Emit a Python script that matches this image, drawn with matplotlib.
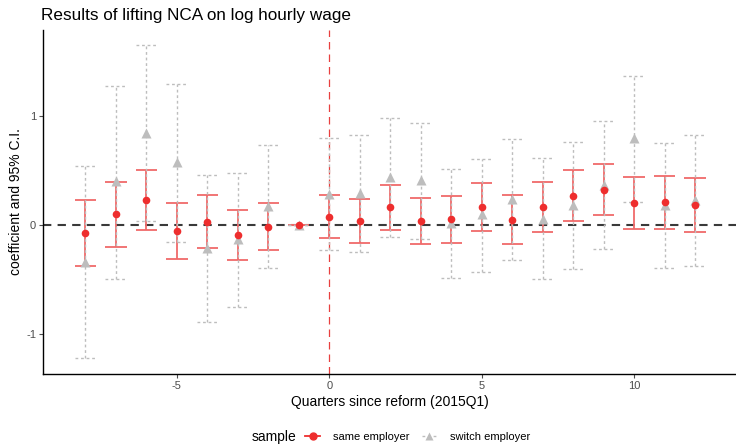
import numpy as np
import matplotlib
matplotlib.use("Agg")
import matplotlib.pyplot as plt
from matplotlib.lines import Line2D

plt.rcParams['font.family'] = ['Liberation Sans', 'DejaVu Sans']
plt.rcParams['axes.unicode_minus'] = False

# Event-time quarters relative to the 2015Q1 reform
quarters = [-8, -7, -6, -5, -4, -3, -2, -1, 0, 1, 2, 3, 4, 5, 6, 7, 8, 9, 10, 11, 12]

# Same employer: coefficient and 95% confidence bounds
same_coef = [-0.073, 0.098, 0.226, -0.055, 0.030, -0.091, -0.018, 0.0, 0.076, 0.037, 0.162,
             0.040, 0.055, 0.168, 0.049, 0.165, 0.268, 0.320, 0.201, 0.208, 0.183]
same_lo = [-0.372, -0.204, -0.049, -0.314, -0.213, -0.323, -0.229, 0.0, -0.119, -0.168, -0.046,
           -0.171, -0.165, -0.052, -0.177, -0.067, 0.037, 0.091, -0.040, -0.040, -0.067]
same_hi = [0.229, 0.393, 0.500, 0.204, 0.274, 0.140, 0.198, 0.0, 0.272, 0.238, 0.366,
           0.247, 0.262, 0.384, 0.274, 0.397, 0.500, 0.558, 0.439, 0.448, 0.433]

# Switch employer: coefficient and 95% confidence bounds
switch_coef = [-0.336, 0.400, 0.845, 0.574, -0.207, -0.131, 0.177, 0.0, 0.286, 0.293, 0.436,
               0.409, 0.015, 0.098, 0.241, 0.058, 0.186, 0.369, 0.796, 0.186, 0.229]
switch_lo = [-1.220, -0.494, 0.037, -0.159, -0.890, -0.750, -0.397, 0.0, -0.226, -0.244, -0.110,
             -0.131, -0.488, -0.430, -0.320, -0.490, -0.403, -0.217, 0.208, -0.397, -0.378]
switch_hi = [0.540, 1.275, 1.644, 1.293, 0.455, 0.479, 0.735, 0.0, 0.799, 0.820, 0.976,
             0.930, 0.515, 0.607, 0.784, 0.610, 0.759, 0.951, 1.363, 0.747, 0.823]

series_labels = ["same employer", "switch employer"]
x_ticks = [-5, 0, 5, 10]
y_ticks = [-1, 0, 1]

RED = "#EE2E2E"
RED_BAR = "#F06A6A"
GREY = "#BDBDBD"
CAP = 0.35

fig = plt.figure(figsize=(7.36, 4.47), dpi=100)
ax = fig.add_axes([0.0584, 0.1633, 0.9416, 0.7696])

x = np.array(quarters, dtype=float)

# reference lines
ax.axhline(0, color="#3A3A3A", lw=1.5, ls=(0, (4, 3)), zorder=1)
ax.axvline(0, color="#E8403F", lw=0.9, ls=(0, (6, 4)), zorder=1)

# same employer intervals (solid)
ax.vlines(x, same_lo, same_hi, color=RED_BAR, lw=1.3, zorder=2)
ax.hlines(same_lo, x - CAP, x + CAP, color=RED_BAR, lw=1.3, zorder=2)
ax.hlines(same_hi, x - CAP, x + CAP, color=RED_BAR, lw=1.3, zorder=2)

# switch employer intervals (dotted)
ax.vlines(x, switch_lo, switch_hi, color=GREY, lw=1.0, linestyles=(0, (2, 2)), zorder=3)
ax.hlines(switch_lo, x - CAP, x + CAP, color=GREY, lw=1.0, linestyles=(0, (2, 2)), zorder=3)
ax.hlines(switch_hi, x - CAP, x + CAP, color=GREY, lw=1.0, linestyles=(0, (2, 2)), zorder=3)

# point estimates
ax.plot(x, switch_coef, ls="none", marker="^", ms=6.5, color=GREY, mec="none", zorder=4)
ax.plot(x, same_coef, ls="none", marker="o", ms=5.5, color=RED, mec="none", zorder=5)

ax.set_xlim(-9.39, 13.34)
ax.set_ylim(-1.363, 1.784)
ax.set_xticks(x_ticks)
ax.set_yticks(y_ticks)
ax.tick_params(axis="both", labelsize=8, colors="#4D4D4D", length=3, width=0.8, pad=2)
for s in ["top", "right"]:
    ax.spines[s].set_visible(False)
for s in ["left", "bottom"]:
    ax.spines[s].set_linewidth(1.0)
    ax.spines[s].set_color("black")

ax.set_xlabel("Quarters since reform (2015Q1)", fontsize=10, labelpad=3)
ax.set_ylabel("coefficient and 95% C.I.", fontsize=10)
ax.yaxis.set_label_coords(-0.029, 0.5)

fig.text(0.056, 0.966, "Results of lifting NCA on log hourly wage", fontsize=12.3,
         ha="left", va="center")

# legend along the bottom
handles = [
    Line2D([], [], color=RED, lw=1.3, marker="o", ms=5),
    Line2D([], [], color=GREY, lw=1.0, ls=(0, (2, 2)), marker="^", ms=5.5, mec="none"),
]
fig.text(0.342, 0.023, "sample", fontsize=10, ha="left", va="center")
fig.legend(handles, series_labels, loc="center left", bbox_to_anchor=(0.415, 0.023),
           ncol=2, frameon=False, fontsize=8, handlelength=1.3, handletextpad=1.2,
           columnspacing=1.1, borderaxespad=0, borderpad=0)

fig.savefig("out.png", dpi=100)
